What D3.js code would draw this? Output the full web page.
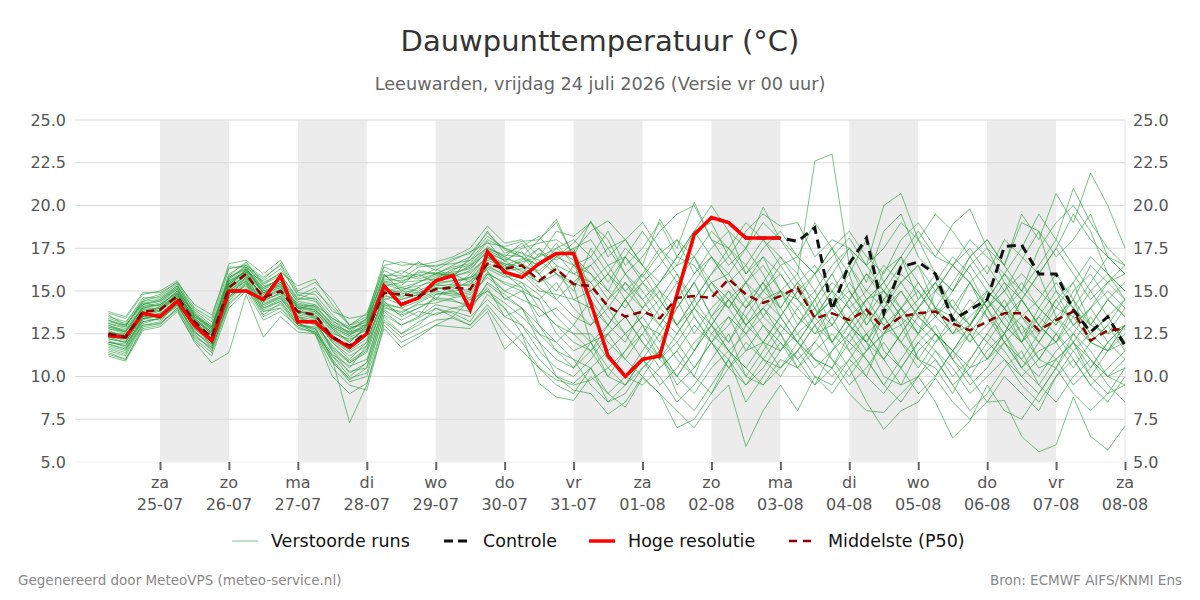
<!DOCTYPE html>
<html><head><meta charset="utf-8">
<script src="https://cdn.jsdelivr.net/npm/d3@7"></script>
<style>body{margin:0;background:#fff;} svg{display:block;font-family:"DejaVu Sans",sans-serif;}</style>
</head><body><svg id="c" width="1200" height="600"></svg>
<script>
// ---- data ----
const hours = d3.range(6, 361, 6); // hours after 24-07 00:00, 6-hourly
const tickHours = d3.range(24, 361, 24);
const dayNames = ["za","zo","ma","di","wo","do","vr","za","zo","ma","di","wo","do","vr","za"];
const dayDates = ["25-07","26-07","27-07","28-07","29-07","30-07","31-07","01-08","02-08","03-08","04-08","05-08","06-08","07-08","08-08"];
const shadedDays = [0,2,4,6,8,10,12];
const yTicks = [5,7.5,10,12.5,15,17.5,20,22.5,25];

const hres = [12.4,12.3,13.7,13.5,14.4,13.0,12.1,15.0,15.0,14.5,15.9,13.2,13.2,12.3,11.7,12.5,15.3,14.2,14.6,15.6,15.9,13.9,17.3,16.1,15.8,16.6,17.2,17.2,14.3,11.2,10.0,11.0,11.2,14.8,18.3,19.3,19.0,18.1,18.1,18.1];
const control = [12.4,12.3,13.7,13.5,14.4,13.0,12.1,15.0,15.0,14.5,15.9,13.2,13.2,12.3,11.7,12.5,15.3,14.2,14.6,15.6,15.9,13.9,17.3,16.1,15.8,16.6,17.2,17.2,14.3,11.2,10.0,11.0,11.2,14.8,18.3,19.3,19.0,18.1,18.1,18.1,
  17.9,18.7,13.9,16.6,18.1,13.7,16.4,16.7,16.0,13.3,13.9,14.5,17.6,17.7,16.0,16.0,13.9,12.6,13.5,11.8];
const p50 = [12.5,12.3,13.8,13.9,14.7,13.2,12.3,15.2,16.0,14.6,15.0,13.8,13.6,12.3,11.8,12.6,14.9,14.8,14.7,15.1,15.2,15.1,16.6,16.3,16.5,15.6,16.3,15.4,15.3,14.1,13.5,13.8,13.4,14.6,14.7,14.6,15.7,14.8,14.3,14.7,
  15.2,13.4,13.7,13.3,13.9,12.8,13.5,13.7,13.8,13.1,12.7,13.2,13.7,13.7,12.7,13.3,13.8,12.1,12.7,12.8];

const runs = [
 [13.6,13.0,14.2,14.5,15.2,13.0,12.0,15.5,16.2,15.0,15.3,14.0,14.2,13.0,12.5,12.8, 15.0,14.5,14.8,15.4,15.2,16.0,17.0,16.5,16.0,17.2,16.8,17.5, 18.0,16.5,17.0,15.8,17.2,18.0,16.0,17.5,18.5,16.0,17.0,15.0,14.5,16.0,17.5,15.0,13.5,16.2,17.0,14.5,15.5,17.0,16.0,14.0,15.0,16.8,18.5,15.0,13.0,14.0,15.5,16.0],
 [12.0,11.8,13.5,13.6,14.5,12.8,11.9,14.8,15.6,14.0,14.5,13.5,13.0,11.5,10.5,11.8, 14.2,14.0,13.5,14.8,15.0,14.5,16.0,15.0,15.5,14.0,13.0,12.0, 11.5,10.0,9.5,11.0,12.5,11.0,10.0,12.5,13.5,11.5,12.0,13.5,12.0,11.0,10.5,12.5,14.0,11.5,10.5,12.0,13.0,11.0,10.0,11.5,12.5,10.5,9.5,11.0,12.0,10.0,11.5,12.0],
 [13.0,12.7,14.0,14.2,14.9,13.5,12.8,15.8,16.4,14.8,15.5,14.2,14.0,12.8,12.0,13.0, 15.5,15.8,16.0,15.5,16.2,16.8,17.5,17.0,17.8,16.5,17.5,18.0, 17.0,18.5,16.5,17.5,19.0,17.0,18.5,20.0,18.5,17.5,19.0,18.0,16.5,15.0,16.5,17.5,15.5,18.5,19.5,17.0,16.0,15.0,17.0,18.0,16.5,15.0,17.5,19.0,20.0,18.5,16.0,15.0],
 [11.5,11.2,13.0,13.2,14.3,12.5,11.5,14.5,15.5,13.8,14.2,13.0,12.8,11.0,9.8,10.5, 13.5,12.5,13.0,14.0,13.5,14.5,15.0,14.0,13.0,12.0,11.0,10.5, 12.0,12.5,11.0,10.0,11.5,9.5,10.5,12.0,11.0,13.0,14.0,12.5,11.0,12.0,13.5,11.5,10.0,12.5,13.0,11.0,10.5,9.0,11.0,12.5,14.0,12.0,10.5,11.0,9.5,10.5,12.0,13.0],
 [13.3,12.9,14.5,14.8,15.5,13.8,13.0,16.0,16.6,15.5,16.0,14.5,15.0,14.0,13.0,13.5, 16.0,15.0,15.5,16.0,16.5,17.0,18.2,17.5,17.0,18.0,19.0,17.0, 16.0,15.0,17.0,15.5,14.5,13.0,14.5,16.0,17.0,15.5,14.5,13.5,15.0,16.0,14.0,13.0,14.5,15.5,14.0,12.5,15.0,16.5,15.5,13.5,12.5,14.5,13.0,12.0,13.5,15.0,13.5,12.0],
 [12.2,12.0,13.6,13.5,14.6,13.4,12.5,15.0,15.8,14.5,14.8,13.5,13.3,12.0,11.0,12.0, 14.8,14.3,14.5,15.0,14.8,15.0,16.4,16.0,15.2,14.5,15.5,14.0, 13.0,14.0,12.5,13.5,12.0,14.0,15.5,13.5,14.5,13.0,12.0,11.5,13.0,14.0,12.0,13.5,14.5,13.0,12.0,13.5,14.0,12.5,13.0,14.5,13.0,12.0,13.5,12.5,11.5,12.5,13.5,12.0],
 [12.8,12.5,13.9,14.0,14.8,13.2,12.2,15.3,16.3,15.2,15.7,14.0,13.5,12.5,12.2,12.5, 15.2,14.6,15.2,15.8,16.0,15.5,17.0,16.3,16.8,17.5,16.5,16.0, 16.5,15.0,14.0,15.5,16.5,18.0,17.0,15.5,16.0,17.5,16.0,14.0,15.5,13.5,14.5,16.0,13.0,14.5,15.5,16.5,14.0,13.5,15.5,14.0,12.5,14.5,16.0,13.5,12.5,14.0,15.0,14.0],
 [11.8,11.5,13.3,13.7,14.2,12.6,11.8,14.6,15.8,14.2,14.6,13.2,12.5,10.5,9.5,9.2, 13.0,12.0,12.5,13.0,13.5,13.0,14.0,12.5,11.5,10.5,9.5,9.0, 10.5,8.5,9.0,10.5,11.5,9.0,8.0,9.5,11.0,8.5,10.0,11.5,12.5,11.0,10.5,12.0,11.0,9.5,8.5,10.0,11.0,9.5,8.0,9.0,10.5,11.5,9.5,8.5,10.0,11.0,9.5,8.5],
 [13.2,13.0,14.3,14.1,15.0,13.6,12.9,15.6,16.1,15.6,16.3,14.8,14.5,13.2,12.8,13.2, 15.8,16.2,15.8,16.3,15.8,17.0,18.5,17.2,17.6,18.2,17.0,17.8, 19.0,18.0,16.0,17.0,18.5,19.5,20.0,18.0,17.5,19.0,18.0,16.5,17.0,19.0,17.5,16.0,18.0,15.5,17.0,18.5,17.0,16.5,17.5,16.0,18.0,17.0,16.0,17.5,19.5,18.0,17.0,16.5],
 [12.4,12.1,13.7,14.0,14.7,13.1,12.4,15.1,15.9,14.7,15.1,13.8,13.7,12.2,11.5,12.2, 14.5,14.8,15.2,14.5,15.5,15.8,16.2,14.5,15.0,13.5,14.0,13.0, 14.5,13.0,12.0,14.0,15.0,13.0,11.5,13.5,15.0,14.0,15.5,13.5,12.0,13.5,15.0,13.0,12.0,14.0,15.0,13.5,12.5,11.5,13.0,15.0,14.0,13.0,12.0,13.5,14.5,12.0,13.0,14.5],
 [11.3,11.0,12.8,13.0,14.0,12.2,11.4,14.2,15.2,13.5,14.0,13.0,12.6,11.2,10.0,10.8, 13.8,13.0,13.5,14.2,14.0,13.8,15.5,14.8,14.0,12.5,12.0,11.0, 9.5,8.5,9.5,11.0,10.0,8.5,9.5,11.0,12.5,10.0,9.5,11.0,10.5,12.0,11.0,9.5,10.5,12.0,10.5,9.0,10.0,11.5,10.0,8.5,10.0,9.0,8.0,10.0,11.0,9.5,8.5,10.0],
 [13.7,13.4,14.8,15.0,15.6,14.0,13.4,16.6,16.8,16.0,16.8,15.0,15.5,14.5,13.0,13.7, 16.5,16.7,16.5,16.7,17.0,17.5,18.8,17.8,18.0,17.0,18.5,18.2, 19.0,17.5,18.0,19.0,17.5,16.5,18.5,19.0,17.0,18.5,19.5,18.8,19.0,17.0,18.0,17.5,16.5,17.5,19.0,18.0,19.5,18.5,17.0,18.0,16.5,19.0,18.5,17.0,18.0,19.5,17.0,16.0],
 [12.6,12.4,13.9,13.8,14.9,13.4,12.6,15.4,16.1,14.4,14.9,13.7,13.8,12.6,12.0,12.9, 15.0,15.0,14.9,15.3,15.4,15.3,16.9,16.6,16.4,16.2,17.0,16.5, 15.5,14.0,15.5,14.0,13.0,14.5,12.5,14.0,15.0,13.0,14.5,15.0,13.0,14.5,12.0,13.0,14.5,15.0,13.5,12.5,14.0,13.0,12.0,14.0,15.5,13.5,12.5,14.5,15.5,13.0,12.5,14.0],
 [12.1,11.7,13.4,13.5,14.4,12.9,12.0,14.9,15.6,14.3,14.7,13.4,13.1,11.8,10.8,11.5, 14.4,13.5,14.0,14.6,14.5,14.0,15.2,13.5,13.0,11.5,10.5,10.0, 11.0,12.5,13.5,12.0,10.5,11.5,13.0,12.0,10.5,9.5,11.0,12.5,10.5,9.5,11.5,13.0,12.0,10.0,9.5,11.5,12.5,11.0,9.5,10.5,12.0,13.0,11.0,10.5,12.5,11.5,10.0,10.5],
 [13.0,12.6,14.1,14.3,15.1,13.7,12.9,15.7,16.5,15.3,15.6,14.4,14.2,13.4,12.9,13.0, 15.6,15.3,16.2,16.0,15.9,16.5,17.6,17.0,16.5,17.5,16.0,15.0, 17.5,16.0,15.0,14.0,15.5,16.5,17.0,15.0,14.0,15.5,16.5,15.0,16.0,14.0,13.0,14.5,16.0,15.0,13.5,14.5,16.0,14.0,13.0,14.5,16.0,15.0,14.0,13.0,14.5,16.5,15.5,14.5],
 [11.9,11.6,13.4,13.3,14.2,12.4,11.6,14.4,15.4,13.6,14.3,13.0,12.9,11.0,7.3,9.5, 13.3,12.5,13.2,13.7,13.8,13.5,14.5,13.5,14.0,13.0,12.0,13.0, 12.0,10.0,11.5,13.0,11.0,10.0,11.5,13.0,11.5,10.5,12.0,10.5,11.5,13.0,11.0,10.0,11.5,12.5,13.5,11.0,10.0,11.5,12.5,11.0,12.0,10.5,11.5,12.0,10.5,12.0,13.0,11.5],
 [13.4,13.1,14.6,14.6,15.3,13.9,13.2,16.3,16.5,15.8,16.5,14.7,15.2,13.8,13.4,13.6, 16.2,15.7,16.4,16.5,16.6,16.8,18.0,17.5,17.2,16.8,16.0,15.5, 15.0,16.0,17.5,16.5,15.0,14.0,15.5,17.0,16.0,14.5,15.5,17.0,16.0,22.6,23.0,16.5,14.5,15.5,17.0,15.5,14.0,15.5,17.0,15.5,14.0,15.0,16.5,18.0,16.5,15.0,16.0,15.0],
 [12.3,12.2,13.6,13.8,14.6,13.0,12.2,15.0,15.8,14.8,15.2,13.9,13.4,12.0,11.2,11.8, 14.6,14.2,14.6,15.2,15.1,15.6,16.3,15.8,16.0,15.0,14.8,14.5, 15.0,13.5,12.5,13.5,14.5,16.0,14.0,13.0,14.5,15.5,13.5,12.5,14.0,15.0,13.0,12.0,13.5,15.0,14.0,12.5,13.5,14.5,13.0,12.0,13.5,14.5,13.0,12.0,13.0,14.0,12.5,13.0],
 [11.6,11.3,13.1,13.4,14.1,12.7,11.7,14.7,15.3,13.9,14.4,13.1,12.7,10.8,9.9,10.2, 13.6,13.0,13.4,14.0,13.7,13.2,14.8,14.0,12.5,11.0,10.0,9.2, 9.0,7.8,8.5,10.0,9.0,7.0,7.5,9.0,11.0,9.5,10.5,12.0,11.0,9.5,10.5,9.0,8.0,7.9,9.0,10.0,8.5,6.4,7.4,9.5,8.0,7.5,9.0,10.5,9.0,8.0,9.0,9.5],
 [12.9,12.6,14.0,14.2,15.0,13.3,12.5,15.5,16.2,15.0,15.4,14.1,13.9,12.9,12.4,13.1, 15.3,15.5,15.6,15.7,16.3,16.5,17.2,16.8,17.3,16.0,15.0,16.5, 16.0,14.5,15.5,14.5,13.0,14.5,16.0,17.0,15.5,14.0,15.0,16.5,15.0,14.0,15.5,14.5,13.0,14.5,16.0,15.0,13.5,15.0,16.5,15.0,14.0,15.5,14.0,13.0,15.0,16.0,14.5,13.5],
 [12.7,12.3,13.8,13.9,14.7,13.1,12.3,15.2,16.0,14.6,15.0,13.8,13.6,12.3,11.6,12.4, 14.9,14.7,14.9,15.2,15.0,15.1,16.6,16.2,16.3,15.5,16.0,15.3, 12.0,13.0,14.5,15.5,14.0,13.0,14.5,13.0,12.0,14.0,15.5,14.0,12.5,13.5,14.5,13.0,12.0,13.5,15.0,13.5,12.5,11.5,13.0,14.5,13.5,12.0,13.0,14.5,13.0,12.0,11.5,13.0],
 [11.4,11.0,12.9,13.1,13.9,12.0,10.8,11.4,14.8,12.3,13.5,12.6,12.5,10.0,9.0,9.6, 12.8,11.7,12.3,13.0,12.9,12.8,13.8,11.6,12.5,9.6,8.8,8.6, 10.0,9.0,8.2,9.9,9.0,8.0,7.0,8.5,9.5,5.9,8.0,9.5,8.0,10.0,9.0,10.5,8.5,6.9,8.0,8.5,9.9,8.5,7.5,8.5,8.6,6.5,5.6,6.0,8.8,6.5,5.7,7.1],
 [13.5,13.2,14.4,14.7,15.4,13.5,12.7,15.9,16.7,15.4,16.1,15.3,15.7,14.2,13.0,13.3, 16.4,16.0,16.7,16.2,16.8,17.3,17.8,17.6,17.9,18.0,19.2,17.0, 19.1,17.0,18.0,16.5,19.2,17.5,20.2,18.0,16.5,17.5,19.9,18.0,17.0,16.0,17.0,18.1,16.5,20.0,20.7,18.0,17.0,18.9,19.8,17.5,16.5,19.5,18.0,20.7,19.0,21.9,20.0,17.5],
 [12.5,12.5,13.5,13.7,14.5,13.3,12.5,15.1,16.0,14.9,15.3,14.0,13.8,12.7,12.1,12.8, 15.1,14.9,14.7,15.4,15.6,15.7,16.8,16.4,16.7,17.0,17.5,16.8, 13.5,12.0,11.0,12.5,14.0,15.5,13.5,12.0,13.0,14.5,13.0,11.5,13.0,14.5,16.0,14.0,12.5,11.0,12.5,14.0,15.5,13.5,12.0,13.0,14.5,12.5,11.0,12.5,14.0,12.5,11.5,13.0],
 [12.0,11.9,13.2,13.4,14.3,12.8,12.0,14.7,15.5,14.1,14.6,13.3,13.2,11.6,10.8,11.4, 14.0,13.8,14.2,14.3,14.6,14.8,15.8,15.0,14.5,14.0,13.0,12.5, 12.5,11.0,10.0,11.5,13.0,12.0,10.5,12.0,13.5,12.5,11.0,10.0,11.5,13.0,12.0,10.5,11.5,13.5,12.0,10.5,12.0,13.5,12.5,11.0,12.5,11.0,10.0,11.5,12.5,11.0,10.0,11.0],
 [13.1,12.8,14.2,14.4,15.1,13.6,12.8,15.6,16.3,15.1,15.8,14.3,14.1,13.1,12.6,13.4, 15.7,15.6,15.9,16.1,15.8,16.2,17.4,16.9,16.6,16.0,17.0,17.5, 15.0,16.0,14.5,13.0,12.5,14.0,15.5,13.5,12.0,13.5,15.0,16.0,14.5,13.0,14.0,15.0,13.5,12.5,14.0,15.5,14.0,12.5,13.5,14.5,13.0,12.0,14.0,15.5,14.0,12.5,13.5,14.5],
 [12.2,12.0,13.5,13.6,14.5,13.0,12.2,15.0,15.7,14.4,14.9,13.6,13.4,11.5,10.2,10.8, 14.2,13.7,14.3,14.8,14.9,14.6,16.0,15.5,15.2,13.0,11.5,10.5, 11.5,13.0,14.5,13.0,11.5,10.0,11.5,13.0,14.5,13.5,12.0,13.5,15.0,13.5,12.0,13.5,12.0,11.0,12.5,14.0,12.5,11.0,12.5,14.0,12.0,10.5,12.0,13.5,12.0,10.5,12.0,13.0],
 [13.8,13.5,14.9,14.9,15.5,14.2,13.6,16.4,16.4,15.7,16.6,14.9,14.8,13.6,12.7,13.4, 16.8,16.5,16.6,16.4,16.9,17.2,18.4,17.4,17.0,16.0,14.5,13.5, 13.0,14.5,16.0,15.0,13.5,12.5,14.0,15.5,14.0,12.5,13.5,15.0,14.0,12.5,13.0,14.5,16.0,14.5,13.0,14.0,15.5,14.0,13.0,14.5,16.0,14.5,13.0,12.0,14.0,15.5,17.0,16.0],
 [11.9,11.6,13.0,13.1,14.0,12.3,11.7,14.3,15.1,13.8,14.0,12.8,12.6,11.2,10.3,10.5, 13.9,13.3,13.8,13.6,14.0,14.2,15.0,14.3,13.5,12.5,11.5,11.0, 10.5,9.0,10.0,9.5,10.5,11.5,10.0,9.0,10.5,12.0,11.0,10.5,11.5,10.0,9.5,11.0,10.0,9.0,10.5,12.0,11.0,9.5,10.5,12.0,11.0,9.5,8.5,10.0,11.5,10.0,9.0,10.5],
 [12.6,12.4,13.7,14.1,14.8,13.2,12.4,15.3,16.1,14.9,15.2,14.0,13.9,12.8,12.3,12.7, 15.0,15.2,15.0,15.5,15.6,15.8,17.1,16.6,16.2,15.2,14.5,15.5, 16.5,17.5,16.0,14.5,15.5,17.0,16.5,15.0,14.0,15.5,17.0,16.0,14.5,13.5,15.0,16.5,15.0,14.0,15.5,16.5,15.0,14.0,15.5,16.5,15.0,13.5,14.5,16.0,14.5,13.0,14.5,15.5],
 [12.3,12.0,13.6,13.9,14.6,13.1,12.4,15.2,15.9,14.6,15.1,13.7,13.5,12.1,11.4,12.0, 14.7,14.5,14.8,15.1,15.3,15.4,16.5,15.9,15.5,14.8,13.5,12.5, 11.5,12.5,13.5,12.0,11.0,12.5,14.0,12.5,11.5,12.5,14.0,13.0,12.0,13.5,14.5,13.0,11.5,12.5,14.0,13.0,12.0,13.0,14.5,13.5,12.0,11.0,12.5,14.0,13.5,12.0,11.5,12.5],
 [13.1,12.9,14.4,14.5,15.3,13.7,12.7,15.7,16.4,15.4,15.9,14.6,14.4,13.3,12.5,13.1, 15.9,15.5,16.1,16.0,16.4,16.6,17.9,16.7,17.5,17.8,18.0,17.3, 18.5,19.1,18.0,16.5,15.5,17.0,18.5,17.0,15.5,16.5,18.0,17.0,15.5,14.5,16.0,17.5,16.5,15.0,16.5,18.0,16.0,15.0,16.5,17.5,15.5,14.5,16.0,17.5,16.0,14.5,15.5,16.5],
 [11.7,11.4,13.2,13.4,14.2,12.6,11.9,14.6,15.4,14.0,14.4,13.1,12.8,11.3,10.6,11.0, 14.1,13.6,14.0,14.5,14.4,14.2,15.4,14.6,14.0,12.0,10.0,9.6, 10.5,11.5,12.5,11.0,9.5,10.5,12.0,13.0,11.5,10.0,11.5,13.0,12.0,10.5,11.5,12.5,11.0,9.5,11.0,12.5,11.5,10.0,11.0,12.5,11.5,10.0,11.0,12.5,11.0,9.5,10.5,11.5],
 [12.8,12.6,14.0,14.0,14.8,13.3,12.6,15.4,16.2,14.9,15.4,14.1,13.9,12.9,12.4,13.0, 15.4,15.1,15.3,15.6,15.9,16.1,17.0,16.5,16.9,16.5,17.2,16.0, 15.5,16.5,15.0,16.0,17.5,16.0,14.5,16.0,17.5,16.5,15.0,14.0,15.5,16.5,15.0,14.0,15.0,16.5,15.5,14.0,15.0,16.5,15.5,14.0,15.0,16.0,15.0,14.0,15.5,17.0,16.0,14.5],
 [12.0,11.8,13.4,13.6,14.4,13.0,12.1,14.9,15.6,14.2,14.7,13.5,13.1,11.7,10.9,11.6, 14.3,14.0,14.4,14.9,14.7,14.9,16.1,15.4,15.0,14.5,12.5,11.5, 12.0,10.5,11.5,12.5,11.0,12.0,13.5,12.0,10.5,11.5,13.0,12.0,10.5,11.5,12.5,11.5,12.5,13.5,12.0,11.0,12.5,11.5,10.5,11.0,12.5,13.5,12.0,11.0,12.0,13.5,12.0,11.0],
 [13.3,13.0,14.3,14.4,15.2,13.5,12.9,15.8,16.3,15.2,15.7,14.5,14.6,13.4,12.8,13.2, 15.9,15.9,15.7,16.0,16.1,16.3,17.3,16.8,16.1,15.5,16.5,14.5, 14.0,13.0,14.5,16.0,14.5,13.0,14.0,15.5,14.5,13.0,14.0,15.0,13.5,12.5,14.0,15.5,14.0,13.0,14.0,15.0,13.5,12.5,14.0,15.0,14.0,12.5,13.5,15.0,14.0,13.0,14.5,13.5],
 [12.9,12.7,14.1,14.2,14.9,13.4,12.6,15.4,16.2,15.1,15.5,14.2,14.1,13.0,12.6,12.9, 15.5,15.2,15.5,15.9,16.0,16.4,17.5,17.1,17.0,16.5,17.8,16.5, 17.0,15.5,17.0,18.5,17.0,15.5,17.0,18.5,17.5,16.0,17.5,18.5,17.0,16.0,17.5,18.5,17.0,16.0,18.0,19.0,17.5,16.5,18.0,17.0,16.0,17.5,19.5,18.0,21.0,19.0,17.5,16.5],
 [11.2,10.9,12.7,12.9,13.8,12.1,11.2,14.0,15.0,13.3,13.8,12.9,12.5,10.9,9.7,10.0, 13.2,12.3,12.8,13.3,13.4,13.0,14.2,13.0,12.0,10.5,9.8,9.5, 9.8,10.5,9.5,10.5,11.5,10.0,9.0,10.5,11.5,10.5,9.5,10.5,12.0,11.0,10.0,11.0,12.5,11.0,9.5,10.0,11.5,10.5,9.0,10.0,11.0,10.0,9.0,10.5,12.0,11.0,10.0,9.5]
];

const legendItems = [
  {label:"Verstoorde runs", key:"ens"},
  {label:"Controle", key:"ctl"},
  {label:"Hoge resolutie", key:"hres"},
  {label:"Middelste (P50)", key:"p50"}
];

// ---- chart ----
const svg = d3.select("#c");
const X0 = 75, X1 = 1125, Y0 = 120, Y1 = 462;
const x = d3.scaleLinear().domain([-5.6, 360]).range([X0, X1]);
const y = d3.scaleLinear().domain([5, 25]).range([Y1, Y0]);

const styles = {
  ens: {stroke:"#2a9d3c", width:1, dash:null, opacity:0.62},
  ctl: {stroke:"#111111", width:3, dash:"9,6", opacity:1},
  hres:{stroke:"#ff0000", width:3.5, dash:null, opacity:1},
  p50: {stroke:"#8b0000", width:2.5, dash:"8,5", opacity:1}
};

// title
svg.append("text").attr("x",600).attr("y",51).attr("text-anchor","middle")
  .attr("font-size",29).attr("fill","#333").text("Dauwpunttemperatuur (°C)");
svg.append("text").attr("x",600).attr("y",90).attr("text-anchor","middle")
  .attr("font-size",17.7).attr("fill","#666").text("Leeuwarden, vrijdag 24 juli 2026 (Versie vr 00 uur)");

// shaded bands
svg.append("g").selectAll("rect").data(shadedDays).join("rect")
  .attr("x", d => x(tickHours[d]))
  .attr("width", d => x(tickHours[d] + 24) - x(tickHours[d]))
  .attr("y", Y0).attr("height", Y1 - Y0)
  .attr("fill", "#ececec");

// gridlines
svg.append("g").selectAll("line").data(yTicks).join("line")
  .attr("x1", X0).attr("x2", X1)
  .attr("y1", d => y(d)).attr("y2", d => y(d))
  .attr("stroke", d => d === 5 ? "#f0f0f0" : "#d9d9d9").attr("stroke-width", 1);

// right border
svg.append("line").attr("x1",X1).attr("x2",X1).attr("y1",Y0).attr("y2",Y1)
  .attr("stroke","#e2e2e2").attr("stroke-width",1);

// y axes
const fmt = d3.format(".1f");
const yl = svg.append("g").attr("transform",`translate(${X0},0)`)
  .call(d3.axisLeft(y).tickValues(yTicks).tickFormat(fmt).tickSize(0).tickPadding(9));
const yr = svg.append("g").attr("transform",`translate(${X1},0)`)
  .call(d3.axisRight(y).tickValues(yTicks).tickFormat(fmt).tickSize(0).tickPadding(8));
[yl, yr].forEach(g => {
  g.select(".domain").remove();
  g.selectAll("text").attr("font-size",16).attr("fill","#555").attr("font-family","DejaVu Sans, sans-serif");
});

// x axis
const xa = svg.append("g").attr("transform",`translate(0,${Y1})`)
  .call(d3.axisBottom(x).tickValues(tickHours).tickSize(8).tickFormat(""));
xa.select(".domain").remove();
xa.selectAll(".tick line").attr("stroke","#666").attr("stroke-width",2);
const xl = svg.append("g");
tickHours.forEach((h, i) => {
  xl.append("text").attr("x", x(h)).attr("y", 488).attr("text-anchor","middle")
    .attr("font-size",16).attr("fill","#555").text(dayNames[i]);
  xl.append("text").attr("x", x(h)).attr("y", 510).attr("text-anchor","middle")
    .attr("font-size",16).attr("fill","#555").text(dayDates[i]);
});

// lines
const line = d3.line().x((d,i) => x(hours[i])).y(d => y(d));
const plot = svg.append("g");
function drawSeries(data, st) {
  plot.append("path").datum(data).attr("d", line)
    .attr("fill","none").attr("stroke", st.stroke).attr("stroke-width", st.width)
    .attr("stroke-opacity", st.opacity)
    .attr("stroke-dasharray", st.dash).attr("stroke-linejoin","miter");
}
runs.forEach(r => drawSeries(r, styles.ens));
drawSeries(control, styles.ctl);
drawSeries(hres, styles.hres);
drawSeries(p50, styles.p50);

// legend
const legX = [232, 444, 589, 789];
const lg = svg.append("g");
legendItems.forEach((it, i) => {
  const st = styles[it.key];
  lg.append("line").attr("x1", legX[i]).attr("x2", legX[i] + 26).attr("y1", 541).attr("y2", 541)
    .attr("stroke", it.key === "ens" ? "#7cc68a" : st.stroke)
    .attr("stroke-width", it.key === "ens" ? 1 : st.width)
    .attr("stroke-dasharray", it.key === "ctl" ? "9,5" : it.key === "p50" ? "8,6" : null);
  lg.append("text").attr("x", legX[i] + 39).attr("y", 547)
    .attr("font-size",17.5).attr("fill","#111").text(it.label);
});

// footer
svg.append("text").attr("x",18).attr("y",585).attr("font-size",13.5).attr("fill","#888")
  .text("Gegenereerd door MeteoVPS (meteo-service.nl)");
svg.append("text").attr("x",1182).attr("y",585).attr("text-anchor","end").attr("font-size",13.5).attr("fill","#888")
  .text("Bron: ECMWF AIFS/KNMI Ens");
</script></body></html>
